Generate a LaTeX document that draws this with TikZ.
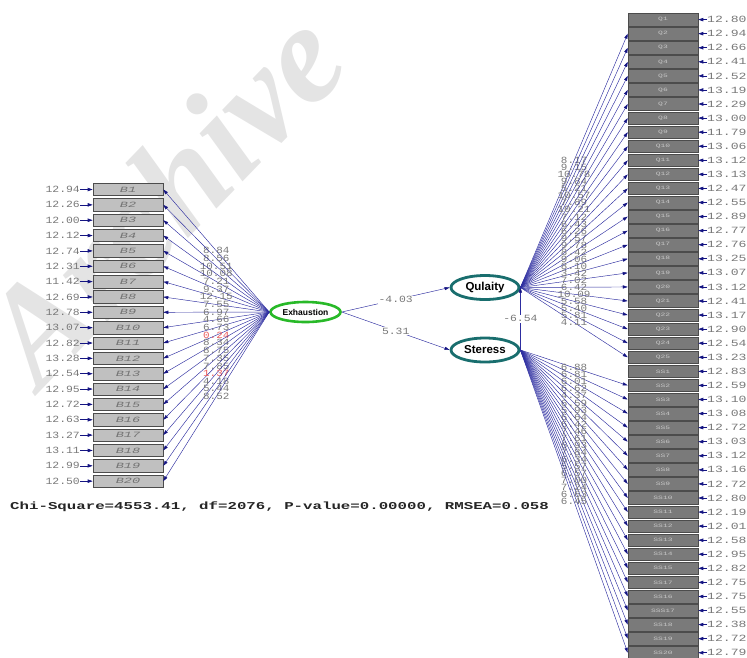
\documentclass[tikz,border=0pt]{standalone}
\usepackage{fontspec}
\setmainfont{Liberation Serif}
\newfontfamily\monof{Liberation Mono}
\newfontfamily\sansf{Liberation Sans}
\usetikzlibrary{shapes.geometric,arrows.meta}
\definecolor{lnk}{RGB}{45,45,160}
\definecolor{headc}{RGB}{20,20,130}
\definecolor{lfill}{RGB}{192,192,192}
\definecolor{rfill}{RGB}{122,122,122}
\definecolor{valc}{RGB}{120,120,120}
\definecolor{redv}{RGB}{235,90,90}
\definecolor{grn}{RGB}{40,185,40}
\definecolor{teal2}{RGB}{25,110,110}
\definecolor{wmark}{RGB}{228,228,228}
\newcommand\wsc[2]{\scalebox{#1}[1]{#2}}
\begin{document}
\begin{tikzpicture}[x=1pt,y=-1pt,
  lbox/.style={draw=black!70, fill=lfill, minimum width=70pt, minimum height=12.4pt, inner sep=0pt, line width=0.6pt,
     font=\monof\itshape\fontsize{8}{8}\selectfont, text=black!55},
  rbox/.style={draw=black!70, fill=rfill, minimum width=70pt, minimum height=12.6pt, inner sep=0pt, line width=0.5pt,
     font=\monof\fontsize{5}{5}\selectfont, text=black!22},
  val/.style={font=\monof\fontsize{9.5}{9.5}\selectfont, text=valc, inner sep=0pt},
  errv/.style={font=\monof\fontsize{9.5}{9.5}\selectfont, text=valc, inner sep=0pt},
  lnkarrow/.style={draw=lnk, line width=0.45pt, -{Triangle[length=5pt,width=3.2pt,color=headc]}},
  errarrow/.style={draw=headc, line width=0.6pt, -{Triangle[length=5pt,width=3.4pt,color=headc]}},
  latent/.style={ellipse, fill=white, inner sep=0pt, font=\sansf\bfseries, text=black}]
\useasboundingbox (0,0) rectangle (747,657);
% watermark
\node[text=wmark, font=\bfseries\itshape\fontsize{140}{140}\selectfont, rotate=46, anchor=base west, inner sep=0pt] (wm) at (40,392) {Archive};
% latent variables
\node[latent, draw=grn, line width=2.6pt, minimum width=70pt, minimum height=20pt, font=\sansf\bfseries\fontsize{8.5}{8.5}\selectfont] (Ex) at (305.5,312) {\makebox[0pt]{Exhaustion}};
\node[latent, draw=teal2, line width=2.8pt, minimum width=68pt, minimum height=24pt, font=\sansf\bfseries\fontsize{11.5}{11.5}\selectfont] (Qu) at (485,287.5) {\makebox[0pt]{Qulaity}};
\node[latent, draw=teal2, line width=2.8pt, minimum width=68pt, minimum height=24pt, font=\sansf\bfseries\fontsize{11.5}{11.5}\selectfont] (St) at (485,350) {\makebox[0pt]{Steress}};
% left indicators
\foreach \i/\e/\t/\c [count=\k from 0] in {
 1/12.94/8.84/valc, 2/12.26/8.56/valc, 3/12.00/10.51/valc, 4/12.12/10.08/valc, 5/12.74/7.21/valc,
 6/12.31/9.37/valc, 7/11.42/12.15/valc, 8/12.69/7.55/valc, 9/12.78/6.97/valc, 10/13.07/4.66/valc,
 11/12.82/6.73/valc, 12/13.28/0.24/redv, 13/12.54/8.34/valc, 14/12.95/8.75/valc, 15/12.72/7.35/valc,
 16/12.63/7.85/valc, 17/13.27/1.37/redv, 18/13.11/4.18/valc, 19/12.99/5.44/valc, 20/12.50/8.52/valc}{
  \pgfmathsetmacro\yc{189.5+\k*15.35}
  \node[lbox] (B\i) at (128,\yc) {\wsc{1.7}{B\i}};
  \node[errv, anchor=east] (eB\i) at (80,\yc) {\wsc{1.2}{\e}};
  \draw[errarrow] (eB\i.east) -- (B\i.west);
  \draw[lnkarrow] (Ex.west) -- node[val, pos=0.5, text=\c] (lB\i) {\wsc{1.15}{\t}} (B\i.east);
}
% right indicators
\foreach \n/\e [count=\k from 1] in {
 Q1/12.80, Q2/12.94, Q3/12.66, Q4/12.41, Q5/12.52, Q6/13.19, Q7/12.29, Q8/13.00, Q9/11.79, Q10/13.06,
 Q11/13.12, Q12/13.13, Q13/12.47, Q14/12.55, Q15/12.89, Q16/12.77, Q17/12.76, Q18/13.25, Q19/13.07, Q20/13.12,
 Q21/12.41, Q22/13.17, Q23/12.90, Q24/12.54, Q25/13.23,
 SS1/12.83, SS2/12.59, SS3/13.10, SS4/13.08, SS5/12.72, SS6/13.03, SS7/13.12, SS8/13.16, SS9/12.72, SS10/12.80,
 SS11/12.19, SS12/12.01, SS13/12.58, SS14/12.95, SS15/12.82, SS17/12.75, SS16/12.75, SSS17/12.55, SS18/12.38,
 SS19/12.72, SS20/12.79}{
  \pgfmathsetmacro\yc{19.6+(\k-1)*14.07}
  \node[rbox] (R\k) at (663,\yc) {\wsc{1.6}{\n}};
  \node[errv, anchor=west] (eR\k) at (707,\yc) {\wsc{1.38}{\e}};
  \draw[errarrow] (eR\k.west) -- (R\k.east);
}
% Quality loadings
\foreach \k/\t in {2/8.17, 3/9.15, 4/10.78, 5/9.84, 6/5.21, 7/10.57, 8/7.89, 9/10.21, 10/7.12, 11/6.43,
 12/6.26, 13/9.57, 14/9.78, 15/8.42, 16/9.06, 17/8.10, 18/3.42, 19/7.02, 20/6.42, 21/10.09,
 22/5.58, 23/5.40, 24/5.81, 25/4.11}{
  \draw[lnkarrow] (Qu.east) -- node[val, pos=0.5] (lQ\k) {\wsc{1.15}{\t}} (R\k.west);
}
% Stress loadings
\foreach \k/\t in {27/6.88, 28/6.81, 29/6.01, 30/6.62, 31/4.37, 32/6.59, 33/5.93, 34/6.64, 35/6.42, 36/7.46,
 37/7.61, 38/6.93, 39/7.84, 40/6.34, 41/5.57, 42/6.57, 43/7.00, 44/7.24, 45/6.63, 46/6.45}{
  \draw[lnkarrow] (St.east) -- node[val, pos=0.5] (lS\k) {\wsc{1.15}{\t}} (R\k.west);
}
% structural paths
\draw[lnkarrow] (Ex.east) -- node[val, fill=white, inner sep=1pt] (p1) {\wsc{1.2}{-4.03}} (Qu.west);
\draw[lnkarrow] (Ex.east) -- node[val, fill=white, inner sep=1pt] (p2) {\wsc{1.2}{5.31}} (St.west);
\draw[lnkarrow] (St.east) -- node[val, fill=white, inner sep=1pt] (p3) {\wsc{1.2}{-6.54}} (Qu.east);
% fit statistics
\node[anchor=west, inner sep=0pt, font=\monof\bfseries\fontsize{10.5}{10.5}\selectfont, text=black!85] (fit) at (10,507)
  {\wsc{1.5}{Chi-Square=4553.41, df=2076, P-value=0.00000, RMSEA=0.058}};
\end{tikzpicture}
\end{document}
